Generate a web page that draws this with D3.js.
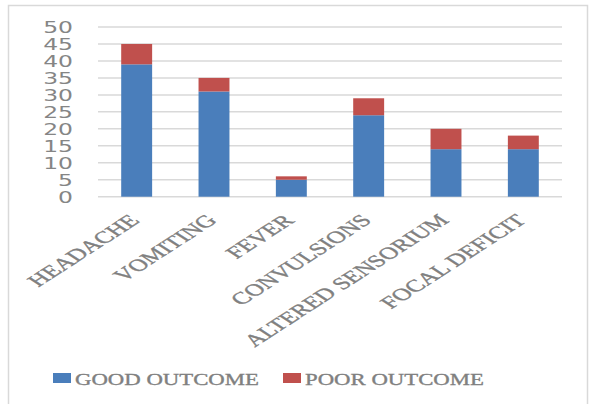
<!DOCTYPE html>
<html>
<head>
<meta charset="utf-8">
<script src="https://cdn.jsdelivr.net/npm/d3@7"></script>
<style>
  html, body { margin: 0; padding: 0; background: #fff; }
  svg { display: block; }
</style>
</head>
<body>
<svg id="chart" width="591" height="404"></svg>
<script>
const categories = ["HEADACHE", "VOMITING", "FEVER", "CONVULSIONS", "ALTERED SENSORIUM", "FOCAL DEFICIT"];
const goodOutcome = [39, 31, 5, 24, 14, 14];
const poorOutcome = [6, 4, 1, 5, 6, 4];
const seriesNames = ["GOOD OUTCOME", "POOR OUTCOME"];
const seriesColors = ["#4a7ebb", "#c0504d"];
const yTicks = [0, 5, 10, 15, 20, 25, 30, 35, 40, 45, 50];

const svg = d3.select("#chart");
const stretch = 1.42;
const labelStretch = 1.55;

// frame
svg.append("rect").attr("x", 8.5).attr("y", 5.5).attr("width", 579).attr("height", 410)
  .attr("fill", "#fff").attr("stroke", "#d9d9d9").attr("stroke-width", 1.5);

const x = d3.scaleBand().domain(categories).range([98, 562]).paddingInner(0.6).paddingOuter(0.3);
const y = d3.scaleLinear().domain([0, 50]).range([196.7, 27]);

// gridlines
svg.append("g").selectAll("line").data(yTicks).join("line")
  .attr("x1", 98).attr("x2", 562)
  .attr("y1", d => y(d)).attr("y2", d => y(d))
  .attr("stroke", "#d9d9d9").attr("stroke-width", 1.5);

// y labels
svg.append("g").selectAll("text").data(yTicks).join("text")
  .attr("transform", d => `translate(73,${y(d)}) scale(${stretch},1)`)
  .attr("text-anchor", "end").attr("dy", "0.36em")
  .attr("font-family", "DejaVu Sans, sans-serif").attr("font-size", 16.5)
  .attr("fill", "#858585")
  .text(d => d);

// stacked bars
const rows = categories.map((c, i) => ({ cat: c, good: goodOutcome[i], poor: poorOutcome[i] }));
const stack = d3.stack().keys(["good", "poor"])(rows);
svg.append("g").selectAll("g").data(stack).join("g")
  .attr("fill", (d, i) => seriesColors[i])
  .selectAll("rect").data(d => d).join("rect")
  .attr("x", d => x(d.data.cat))
  .attr("width", x.bandwidth())
  .attr("y", d => y(d[1]))
  .attr("height", d => y(d[0]) - y(d[1]));

// x labels
svg.append("g").selectAll("text").data(categories).join("text")
  .attr("transform", d => `translate(${x(d) + x.bandwidth() / 2 - 9},${213}) scale(${labelStretch},1) rotate(-45)`)
  .attr("text-anchor", "end").attr("dy", "0.7em")
  .attr("font-family", "Liberation Serif, serif").attr("font-size", 17)
  .attr("fill", "#808080").attr("stroke", "#808080").attr("stroke-width", 0.35)
  .text(d => d);

// legend
const legendX = [53, 283];
const lg = svg.append("g");
seriesNames.forEach((name, i) => {
  lg.append("rect").attr("x", legendX[i]).attr("y", 373).attr("width", 18).attr("height", 10)
    .attr("fill", seriesColors[i]);
  lg.append("text")
    .attr("transform", `translate(${legendX[i] + 22},384.5) scale(1.34,1)`)
    .attr("font-family", "Liberation Serif, serif").attr("font-size", 17)
    .attr("fill", "#808080").attr("stroke", "#808080").attr("stroke-width", 0.35)
    .text(name);
});
</script>
</body>
</html>
